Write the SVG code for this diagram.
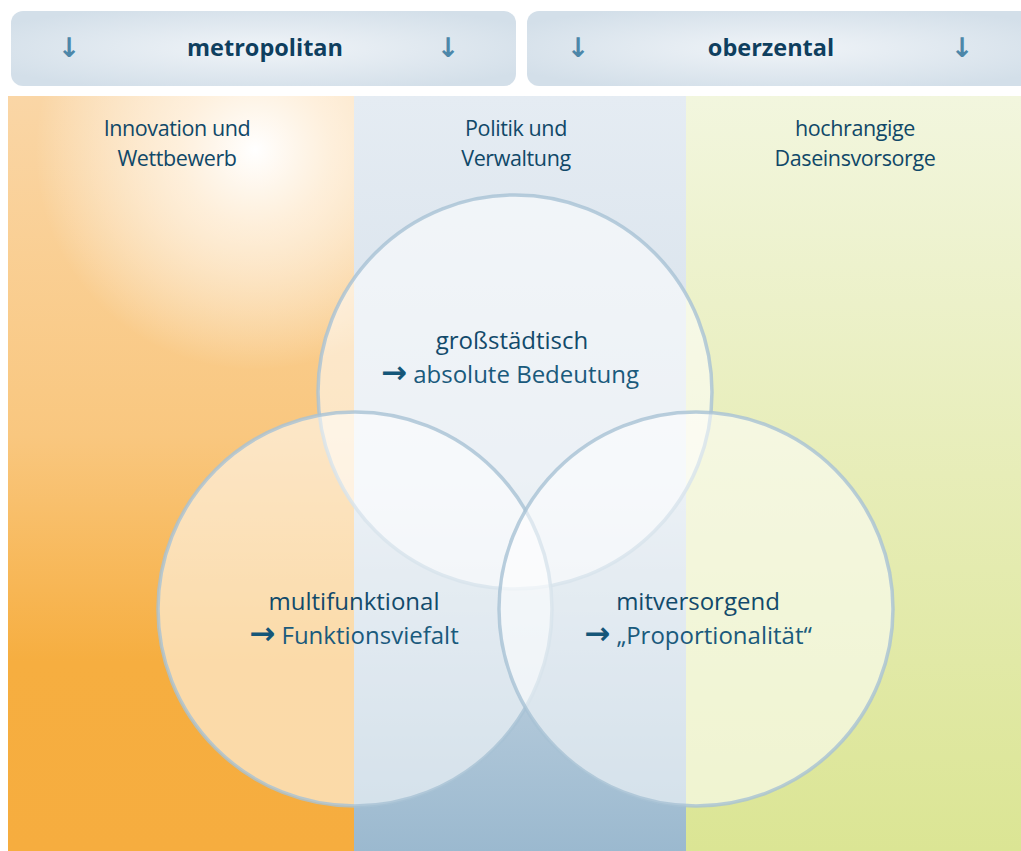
<svg xmlns="http://www.w3.org/2000/svg" width="1021" height="851" viewBox="0 0 1021 851">
<defs>
<radialGradient id="hdr" cx="0.5" cy="0.5" r="0.6">
<stop offset="0" stop-color="#F0F4F8"/>
<stop offset="1" stop-color="#D3DFE9"/>
</radialGradient>
<linearGradient id="gl" x1="0" y1="0" x2="0" y2="1">
<stop offset="0" stop-color="#FAD6A6"/>
<stop offset="0.45" stop-color="#F9C77F"/>
<stop offset="0.75" stop-color="#F6AE40"/>
<stop offset="1" stop-color="#F6AD3F"/>
</linearGradient>
<radialGradient id="glow" gradientUnits="userSpaceOnUse" cx="255" cy="150" r="220">
<stop offset="0" stop-color="#FFFFFF" stop-opacity="1"/>
<stop offset="0.35" stop-color="#FFF6EA" stop-opacity="0.8"/>
<stop offset="1" stop-color="#FFFFFF" stop-opacity="0"/>
</radialGradient>
<linearGradient id="gm" x1="0" y1="0" x2="0" y2="1">
<stop offset="0" stop-color="#E5ECF3"/>
<stop offset="0.5" stop-color="#D5E0EA"/>
<stop offset="1" stop-color="#9BB9CF"/>
</linearGradient>
<linearGradient id="gr" x1="0" y1="0" x2="0" y2="1">
<stop offset="0" stop-color="#F2F6DE"/>
<stop offset="0.5" stop-color="#E7EDB8"/>
<stop offset="1" stop-color="#DBE594"/>
</linearGradient>
<style>
.h{font-family:"Open Sans","Noto Sans",sans-serif;font-weight:bold;font-size:23.5px;fill:#0F3F5F;text-anchor:middle}
.ar{font-family:"DejaVu Sans",sans-serif;font-weight:bold;font-size:27px;fill:#4D87A9;text-anchor:middle}
.col{font-family:"Open Sans","Noto Sans",sans-serif;font-size:21.5px;fill:#104868;text-anchor:middle;letter-spacing:-0.4px}
.ct{font-family:"Open Sans","Noto Sans",sans-serif;font-size:24px;fill:#124A6B;text-anchor:middle}
.ct2{font-family:"Open Sans","Noto Sans",sans-serif;font-size:24px;fill:#1A5A7C;text-anchor:middle}
.arr{font-family:"DejaVu Sans",sans-serif;font-weight:bold;font-size:31px;fill:#155678}
.circ{fill:#FFFFFF;fill-opacity:0.55;stroke:#A8C2D5;stroke-opacity:0.8;stroke-width:3.5}
</style>
</defs>
<rect width="1021" height="851" fill="#FFFFFF"/>
<g id="header-metropolitan">
<rect x="11" y="11" width="505" height="75" rx="12" fill="url(#hdr)"/>
<text class="ar" x="69" y="57">↓</text>
<text class="h" x="265" y="56">metropolitan</text>
<text class="ar" x="448" y="57">↓</text>
</g>
<g id="header-oberzental">
<rect x="527" y="11" width="510" height="75" rx="12" fill="url(#hdr)"/>
<text class="ar" x="578" y="57">↓</text>
<text class="h" x="771" y="56">oberzental</text>
<text class="ar" x="962" y="57">↓</text>
</g>
<g id="panel-left">
<rect x="8" y="96" width="346" height="755" fill="url(#gl)"/>
<rect x="8" y="96" width="346" height="755" fill="url(#glow)"/>
<text class="col" x="177" y="136">Innovation und</text>
<text class="col" x="177" y="166">Wettbewerb</text>
</g>
<g id="panel-middle">
<rect x="354" y="96" width="332" height="755" fill="url(#gm)"/>
<text class="col" x="516" y="136">Politik und</text>
<text class="col" x="516" y="166">Verwaltung</text>
</g>
<g id="panel-right">
<rect x="686" y="96" width="335" height="755" fill="url(#gr)"/>
<text class="col" x="855" y="136">hochrangige</text>
<text class="col" x="855" y="166">Daseinsvorsorge</text>
</g>
<g id="connectors"></g>
<g id="circle-top">
<circle class="circ" cx="515" cy="392" r="197"/>
</g>
<g id="circle-left">
<circle class="circ" cx="355" cy="609" r="197"/>
</g>
<g id="circle-right">
<circle class="circ" cx="696" cy="609" r="197"/>
</g>
<g id="label-top">
<text class="ct" x="512" y="349">großstädtisch</text>
<text class="ct2" x="510" y="383"><tspan class="arr">→</tspan> absolute Bedeutung</text>
</g>
<g id="label-left">
<text class="ct" x="354" y="610">multifunktional</text>
<text class="ct2" x="354" y="644"><tspan class="arr">→</tspan> Funktionsviefalt</text>
</g>
<g id="label-right">
<text class="ct" x="698" y="610">mitversorgend</text>
<text class="ct2" x="698" y="644"><tspan class="arr">→</tspan> „Proportionalität“</text>
</g>
</svg>
